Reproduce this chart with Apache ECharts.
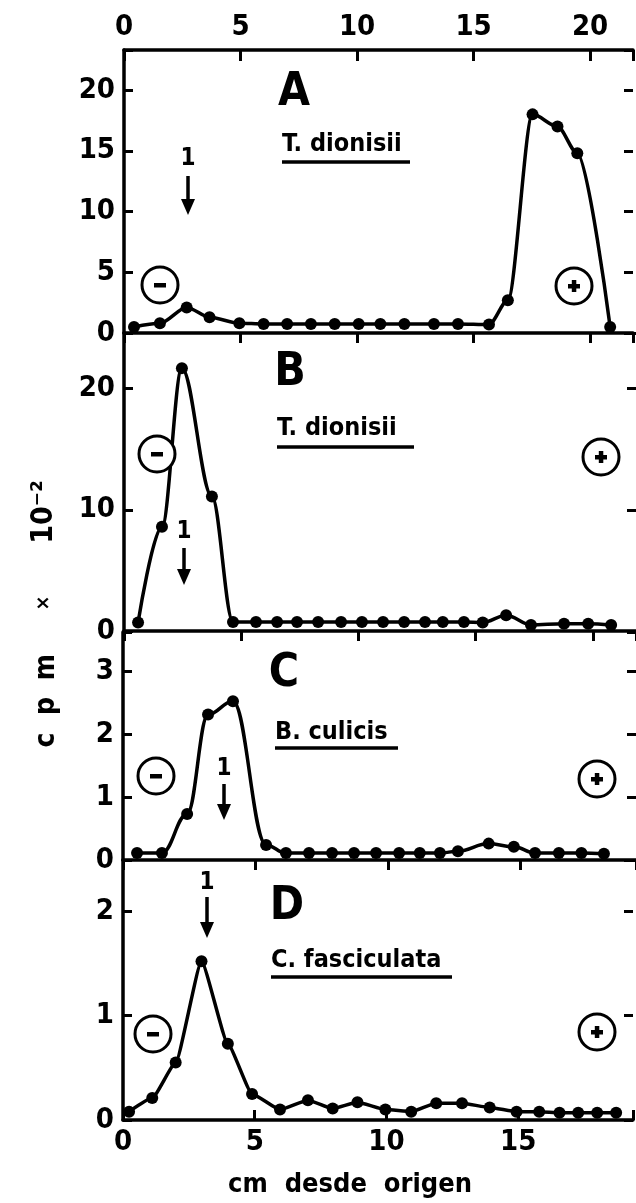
<!DOCTYPE html>
<html>
<head>
<meta charset="utf-8">
<script src="https://cdn.jsdelivr.net/npm/echarts@6/dist/echarts.min.js"></script>
<style>
  html, body { margin: 0; padding: 0; background: #fff; }
  #main { width: 636px; height: 1203px; }
</style>
</head>
<body>
<div id="main"></div>
<script>
// posiciones (cm desde origen) y cpm x 10^-2 de cada panel
var aX = [0.43, 1.54, 2.69, 3.67, 4.95, 5.99, 7.0, 8.02, 9.04, 10.07, 11.0, 12.03, 13.3, 14.33, 15.66, 16.47, 17.53, 18.6, 19.45, 20.86];
var aY = [0.5, 0.8, 2.1, 1.3, 0.8, 0.75, 0.75, 0.75, 0.75, 0.75, 0.75, 0.75, 0.75, 0.75, 0.7, 2.7, 18.0, 17.0, 14.8, 0.5];

var bX = [0.6, 1.62, 2.47, 3.75, 4.65, 5.63, 6.53, 7.38, 8.28, 9.26, 10.15, 11.05, 11.95, 12.84, 13.6, 14.5, 15.3, 16.3, 17.36, 18.77, 19.8, 20.78];
var bY = [0.7, 8.6, 21.7, 11.1, 0.75, 0.75, 0.75, 0.75, 0.75, 0.75, 0.75, 0.75, 0.75, 0.75, 0.75, 0.75, 0.7, 1.3, 0.5, 0.6, 0.6, 0.5];

var cX = [0.53, 1.47, 2.42, 3.21, 4.15, 5.4, 6.15, 7.02, 7.89, 8.72, 9.55, 10.42, 11.2, 11.96, 12.64, 13.8, 14.75, 15.55, 16.45, 17.3, 18.15];
var cY = [0.11, 0.11, 0.73, 2.31, 2.52, 0.24, 0.11, 0.11, 0.11, 0.11, 0.11, 0.11, 0.11, 0.11, 0.14, 0.26, 0.21, 0.11, 0.11, 0.11, 0.1];

var dX = [0.23, 1.11, 2.0, 2.98, 3.98, 4.9, 5.96, 7.02, 7.96, 8.9, 9.96, 10.94, 11.89, 12.87, 13.92, 14.94, 15.8, 16.57, 17.28, 18.0, 18.72];
var dY = [0.08, 0.21, 0.55, 1.52, 0.73, 0.25, 0.1, 0.19, 0.11, 0.17, 0.1, 0.08, 0.16, 0.16, 0.12, 0.08, 0.08, 0.07, 0.07, 0.07, 0.07];

// marcas de los ejes
var xTicks = [0, 5, 10, 15, 20];
var yTicksA = [0, 5, 10, 15, 20];
var yTicksB = [0, 10, 20];
var yTicksC = [0, 1, 2, 3];
var yTicksD = [0, 1, 2];

var panelLetters = ['A', 'B', 'C', 'D'];
var species = ['T. dionisii', 'T. dionisii', 'B. culicis', 'C. fasciculata'];

var FONT = "'DejaVu Sans Condensed', 'DejaVu Sans', sans-serif";
var LW = 3.5;

function pairs(xs, ys) {
  return xs.map(function (x, i) { return [x, ys[i]]; });
}

function onlyTicks(list) {
  return function (v) {
    for (var i = 0; i < list.length; i++) {
      if (Math.abs(list[i] - v) < 1e-6) return String(list[i]);
    }
    return '';
  };
}

var lineStyle = { color: '#000', width: LW };
var labelStyle = { color: '#000', fontSize: 29, fontWeight: 'bold', fontFamily: FONT };

function xAxis(grid, pos, max, tickInside, showLabel, tickLen) {
  return {
    type: 'value', gridIndex: grid, position: pos, min: 0, max: max, interval: 5,
    axisLine: { show: true, onZero: false, lineStyle: lineStyle },
    axisTick: { show: true, inside: tickInside, length: tickLen, lineStyle: { color: '#000', width: 3 } },
    axisLabel: Object.assign({ show: showLabel, margin: 8, formatter: onlyTicks(xTicks) }, labelStyle),
    splitLine: { show: false }
  };
}

function yAxis(grid, pos, max, step, ticks) {
  var left = pos === 'left';
  return {
    type: 'value', gridIndex: grid, position: pos, min: 0, max: max, interval: step,
    axisLine: { show: left, onZero: false, lineStyle: lineStyle },
    axisTick: { show: true, inside: true, length: 9, lineStyle: { color: '#000', width: 3 } },
    axisLabel: Object.assign({ show: left, margin: 9, formatter: onlyTicks(ticks) }, labelStyle),
    splitLine: { show: false }
  };
}

function series(xi, yi, xs, ys, smooth) {
  return {
    type: 'line', xAxisIndex: xi, yAxisIndex: yi, data: pairs(xs, ys),
    smooth: smooth, smoothMonotone: 'x',
    symbol: 'circle', symbolSize: 12,
    itemStyle: { color: '#000' },
    lineStyle: { color: '#000', width: LW },
    z: 5
  };
}

// anotaciones
var graphics = [];
function txt(x, y, s, size, opts) {
  graphics.push(Object.assign({
    type: 'text', x: x, y: y, z: 50,
    style: { text: s, fill: '#000', fontSize: size, fontWeight: 'bold', fontFamily: FONT,
             align: 'center', verticalAlign: 'middle' }
  }, opts || {}));
}
function sign(cx, cy, plus) {
  graphics.push({ type: 'circle', z: 40, shape: { cx: cx, cy: cy, r: 18 },
    style: { fill: '#fff', stroke: '#000', lineWidth: 3 } });
  graphics.push({ type: 'rect', z: 41, shape: { x: cx - 6, y: cy - 2, width: 12, height: 4.5 }, style: { fill: '#000' } });
  if (plus) {
    graphics.push({ type: 'rect', z: 41, shape: { x: cx - 2.2, y: cy - 6, width: 4.5, height: 12 }, style: { fill: '#000' } });
  }
}
function arrow(x, yText, y0, y1) {
  txt(x, yText, '1', 24);
  graphics.push({ type: 'line', z: 40, shape: { x1: x, y1: y0, x2: x, y2: y1 - 12 },
    style: { stroke: '#000', lineWidth: 3.5 } });
  graphics.push({ type: 'polygon', z: 40, shape: { points: [[x - 7, y1 - 16], [x + 7, y1 - 16], [x, y1]] },
    style: { fill: '#000' } });
}
function species_(x, y, s, x2, yLine) {
  graphics.push({ type: 'text', x: x, y: y, z: 50,
    style: { text: s, fill: '#000', fontSize: 25, fontWeight: 'bold', fontFamily: FONT,
             align: 'left', verticalAlign: 'middle' } });
  graphics.push({ type: 'line', z: 50, shape: { x1: x, y1: yLine, x2: x2, y2: yLine },
    style: { stroke: '#000', lineWidth: 3.5 } });
}

txt(294, 93, panelLetters[0], 46);
txt(290, 373, panelLetters[1], 46);
txt(284, 674, panelLetters[2], 46);
txt(287, 907, panelLetters[3], 46);

species_(282, 144, species[0], 410, 162);
species_(277, 428, species[1], 414, 447);
species_(275, 732, species[2], 398, 748);
species_(271, 960, species[3], 452, 977);

sign(160, 285, false); sign(574, 286, true);
sign(157, 454, false); sign(601, 457, true);
sign(156, 776, false); sign(597, 779, true);
sign(153, 1034, false); sign(597, 1032, true);

arrow(188, 159, 176, 215);
arrow(184, 532, 548, 585);
arrow(224, 769, 784, 820);
arrow(207, 883, 897, 938);

// titulo del eje vertical (leido de abajo hacia arriba)
var rot = { rotation: Math.PI / 2 };
txt(47, 740, 'c', 28, rot);
txt(47, 706, 'p', 28, rot);
txt(47, 667, 'm', 28, rot);
txt(44, 603, '\u00d7', 20, rot);
txt(44, 512, '10\u207b\u00b2', 30, rot);

txt(350, 1185, 'cm  desde  origen', 27);

var chart = echarts.init(document.getElementById('main'));
chart.setOption({
  animation: false,
  backgroundColor: '#fff',
  grid: [
    { left: 124, top: 50, width: 512, height: 283 },
    { left: 124, top: 333, width: 512, height: 298 },
    { left: 123, top: 632, width: 513, height: 228 },
    { left: 123, top: 860, width: 513, height: 260 }
  ],
  xAxis: [
    xAxis(0, 'bottom', 21.84, false, false, 10),
    xAxis(0, 'top', 21.84, true, true, 11),
    xAxis(1, 'bottom', 21.84, false, false, 10),
    xAxis(2, 'bottom', 19.36, false, false, 10),
    xAxis(3, 'bottom', 19.36, true, true, 10)
  ],
  yAxis: [
    yAxis(0, 'left', 23.3, 5, yTicksA), yAxis(0, 'right', 23.3, 5, yTicksA),
    yAxis(1, 'left', 24.6, 10, yTicksB), yAxis(1, 'right', 24.6, 10, yTicksB),
    yAxis(2, 'left', 3.62, 1, yTicksC), yAxis(2, 'right', 3.62, 1, yTicksC),
    yAxis(3, 'left', 2.49, 1, yTicksD), yAxis(3, 'right', 2.49, 1, yTicksD)
  ],
  series: [
    series(0, 0, aX, aY, 0.3),
    series(2, 2, bX, bY, 0.35),
    series(3, 4, cX, cY, 0.4),
    series(4, 6, dX, dY, 0.15)
  ],
  graphic: graphics
});
</script>
</body>
</html>
